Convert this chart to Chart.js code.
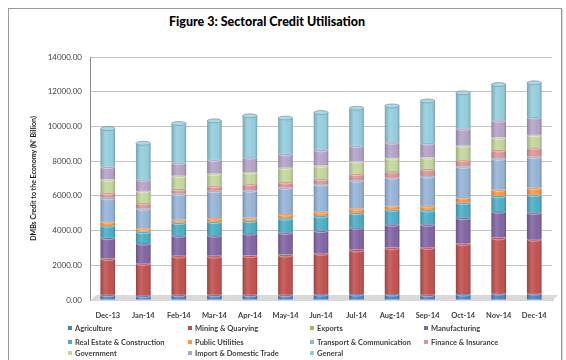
<!DOCTYPE html>
<html>
<head>
<meta charset="utf-8">
<script src="https://cdn.jsdelivr.net/npm/chart.js@4.4.1/dist/chart.umd.min.js"></script>
<style>
  html, body { margin: 0; padding: 0; background: #fff; }
  #wrap { position: relative; width: 566px; height: 360px; overflow: hidden; font-family: Lato, 'Open Sans', sans-serif; }
  #frame { position: absolute; left: 8px; top: 8px; width: 552px; height: 400px; border: 1px solid #9a9a9a; box-shadow: 1px 1px 1px rgba(0,0,0,0.15); }
  #title { position: absolute; left: 0; width: 534px; top: 14px; text-align: center; font-weight: 900; font-size: 12.5px; color: #000; }
  #chart { position: absolute; left: 0; top: 0; }
  .lg { position: absolute; font-size: 7.5px; font-weight: bold; color: #404040; white-space: nowrap; line-height: 8px; }
  .lg i { display: inline-block; width: 4px; height: 4px; margin-right: 3px; vertical-align: 1px; }
</style>
</head>
<body>
<div id="wrap">
  <div id="frame"></div>
  <div id="title">Figure 3: Sectoral Credit Utilisation</div>
  <canvas id="chart" width="566" height="360"></canvas>
  <div id="legend"></div>
</div>
<script>
// DMBs credit by sector, N' billion
const months = ['Dec-13', 'Jan-14', 'Feb-14', 'Mar-14', 'Apr-14', 'May-14', 'Jun-14',
                'Jul-14', 'Aug-14', 'Sep-14', 'Oct-14', 'Nov-14', 'Dec-14'];

const agriculture   = [300, 250, 300, 300, 300, 300, 340, 340, 340, 300, 340, 400, 400];
const mining        = [2090, 1860, 2230, 2230, 2250, 2290, 2350, 2540, 2670, 2730, 2920, 3180, 3100];
const exportsCredit = [18, 17, 19, 20, 21, 22, 20, 19, 18, 17, 16, 15, 14];
const manufacturing = [1180, 1150, 1180, 1180, 1280, 1280, 1290, 1290, 1330, 1310, 1460, 1520, 1530];
const realEstate    = [720, 660, 730, 790, 720, 820, 840, 840, 860, 820, 880, 880, 1030];
const publicUtil    = [230, 190, 190, 200, 190, 240, 250, 250, 250, 250, 320, 380, 400];
const transport     = [1350, 1150, 1480, 1570, 1560, 1530, 1580, 1620, 1620, 1710, 1760, 1790, 1790];
const finance       = [300, 320, 270, 300, 390, 320, 320, 380, 340, 420, 400, 480, 530];
const government    = [760, 690, 760, 690, 660, 820, 760, 720, 760, 670, 800, 720, 720];
const importTrade   = [740, 660, 760, 820, 860, 800, 900, 900, 900, 820, 990, 990, 1030];
const general       = [2190, 2080, 2250, 2220, 2380, 2060, 2150, 2150, 2090, 2420, 2050, 2060, 1970];

const yTicks = [0, 2000, 4000, 6000, 8000, 10000, 12000, 14000];

const series = [
  ['Agriculture', agriculture, '#4F81BD'],
  ['Mining & Quarying', mining, '#C0504D'],
  ['Exports', exportsCredit, '#9BBB59'],
  ['Manufacturing', manufacturing, '#8064A2'],
  ['Real Estate & Construction', realEstate, '#4BACC6'],
  ['Public Utilities', publicUtil, '#F79646'],
  ['Transport & Communication', transport, '#95B3D7'],
  ['Finance & Insurance', finance, '#D99694'],
  ['Government', government, '#C3D69B'],
  ['Import & Domestic Trade', importTrade, '#B3A2C7'],
  ['General', general, '#93CDDD']
];

const FONT = "Lato, 'Open Sans', sans-serif";

// grey floor under the columns
const floorPlugin = {
  id: 'floor',
  beforeDatasetsDraw(chart) {
    const { ctx: c, chartArea: { left, right }, scales: { y } } = chart;
    const y0 = y.getPixelForValue(0);
    c.save();
    c.fillStyle = '#d9d9d9';
    c.beginPath();
    c.moveTo(left, y0 + 1);
    c.lineTo(left + 6, y0 - 5);
    c.lineTo(right + 6, y0 - 5);
    c.lineTo(right, y0 + 1);
    c.closePath();
    c.fill();
    c.restore();
  }
};

// cylinder shading: side gradient, rim arcs, lid on the top segment
const cylinderPlugin = {
  id: 'cylinder',
  afterDatasetsDraw(chart) {
    const c = chart.ctx;
    const n = chart.data.datasets.length;
    c.save();
    chart.data.datasets.forEach((ds, di) => {
      const meta = chart.getDatasetMeta(di);
      meta.data.forEach(bar => {
        const { x, y, base, width } = bar.getProps(['x', 'y', 'base', 'width'], true);
        const l = x - width / 2, r = x + width / 2;
        if (base - y < 0.5) return;
        const g = c.createLinearGradient(l, 0, r, 0);
        g.addColorStop(0, 'rgba(0,0,0,0.2)');
        g.addColorStop(0.35, 'rgba(255,255,255,0.12)');
        g.addColorStop(0.7, 'rgba(255,255,255,0.0)');
        g.addColorStop(1, 'rgba(0,0,0,0.22)');
        c.fillStyle = g;
        c.fillRect(l, y, width, base - y);
        c.strokeStyle = 'rgba(255,255,255,0.5)';
        c.lineWidth = 0.8;
        c.beginPath();
        c.ellipse(x, y, width / 2, 2, 0, 0, Math.PI);
        c.stroke();
        if (di === n - 1) {
          c.fillStyle = '#a9d8e6';
          c.beginPath();
          c.ellipse(x, y, width / 2, 2, 0, 0, Math.PI * 2);
          c.fill();
          c.strokeStyle = 'rgba(60,120,140,0.6)';
          c.stroke();
        }
      });
    });
    c.restore();
  }
};

new Chart(document.getElementById('chart'), {
  type: 'bar',
  plugins: [floorPlugin, cylinderPlugin],
  data: {
    labels: months,
    datasets: series.map(([label, data, color]) => ({
      label,
      data,
      backgroundColor: color,
      borderWidth: 0,
      barPercentage: 0.41,
      categoryPercentage: 1
    }))
  },
  options: {
    responsive: false,
    animation: false,
    layout: { padding: { left: 10, right: 14, top: 57, bottom: 40 } },
    plugins: {
      legend: { display: false },
      tooltip: { enabled: false }
    },
    scales: {
      x: {
        stacked: true,
        afterFit: s => { s.height = 20; },
        grid: { display: false },
        border: { color: '#8c8c8c' },
        ticks: { color: '#404040', font: { family: FONT, size: 7.5, weight: 'bold' }, padding: 3, maxRotation: 0 }
      },
      y: {
        stacked: true,
        min: 0, max: 14000,
        afterFit: s => { s.width = 80; },
        afterBuildTicks: s => { s.ticks = yTicks.map(v => ({ value: v })); },
        grid: { color: '#c4c4c4', drawTicks: false },
        border: { color: '#8c8c8c' },
        ticks: { color: '#404040', font: { family: FONT, size: 8 }, padding: 8, callback: v => v.toFixed(2) },
        title: {
          display: true,
          text: "DMBs Credit to the Economy (N' Billion)",
          color: '#202020',
          font: { family: FONT, size: 7, weight: 'bold' },
          padding: { top: 20, bottom: 0 }
        }
      }
    }
  }
});

// legend laid out in four columns, row by row
const legendCols = [68, 188, 310, 424];
const legendRows = [325, 339, 350];
const legendEl = document.getElementById('legend');
series.forEach(([label, , color], i) => {
  const d = document.createElement('div');
  d.className = 'lg';
  d.style.left = legendCols[i % 4] + 'px';
  d.style.top = legendRows[Math.floor(i / 4)] + 'px';
  d.innerHTML = `<i style="background:${color}"></i>${label}`;
  legendEl.appendChild(d);
});
</script>
</body>
</html>
